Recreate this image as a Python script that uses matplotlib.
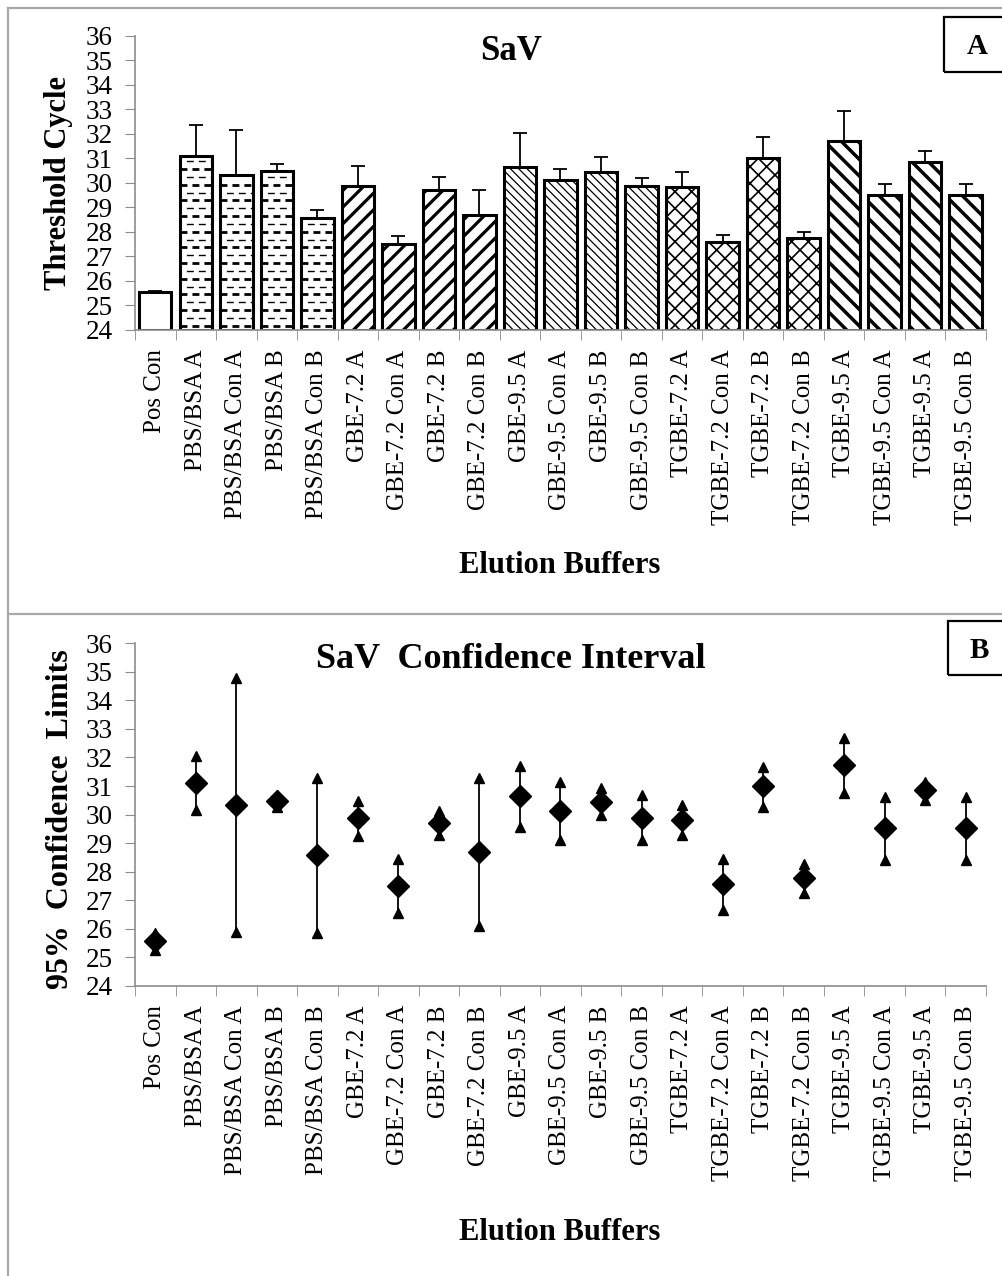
import numpy as np
import matplotlib
matplotlib.use("Agg")
import matplotlib.pyplot as plt
from matplotlib.patches import Rectangle
from matplotlib.lines import Line2D

plt.rcParams['font.family'] = ['Liberation Serif', 'DejaVu Serif']
plt.rcParams['lines.scale_dashes'] = False

# ---- data ----
buffers = ["Pos Con", "PBS/BSA A", "PBS/BSA Con A", "PBS/BSA B", "PBS/BSA Con B",
           "GBE-7.2 A", "GBE-7.2 Con A", "GBE-7.2 B", "GBE-7.2 Con B",
           "GBE-9.5 A", "GBE-9.5 Con A", "GBE-9.5 B", "GBE-9.5 Con B",
           "TGBE-7.2 A", "TGBE-7.2 Con A", "TGBE-7.2 B", "TGBE-7.2 Con B",
           "TGBE-9.5 A", "TGBE-9.5 Con A", "TGBE-9.5 A", "TGBE-9.5 Con B"]
ct_mean = [25.56, 31.10, 30.34, 30.49, 28.58, 29.89, 27.51, 29.71, 28.69, 30.65, 30.12,
           30.43, 29.89, 29.82, 27.58, 31.01, 27.77, 31.73, 29.52, 30.85, 29.52]
ct_sd = [0.04, 1.26, 1.81, 0.27, 0.33, 0.82, 0.33, 0.55, 1.04, 1.38, 0.44,
         0.64, 0.30, 0.63, 0.30, 0.88, 0.22, 1.19, 0.42, 0.44, 0.42]
ci_upper = [25.84, 32.05, 34.77, 30.68, 31.27, 30.49, 28.44, 30.11, 31.29, 31.71, 31.15,
            30.92, 30.68, 30.33, 28.43, 31.65, 28.27, 32.67, 30.60, 31.15, 30.60]
ci_lower = [25.25, 30.17, 25.89, 30.25, 25.86, 29.26, 26.56, 29.27, 26.08, 29.57, 29.11,
            29.98, 29.11, 29.28, 26.65, 30.27, 27.26, 30.74, 28.41, 30.51, 28.41]
# fill style per buffer group
group_fill = ["none"] + ["dash"] * 4 + ["//"] * 4 + ["\\\\\\\\"] * 4 + ["xx"] * 4 + ["\\\\"] * 4
hatch_lw = {"//": 2.3, "\\\\\\\\": 0.9, "xx": 1.2, "\\\\": 2.5}

x = np.arange(len(buffers))
axis_grey = "#8c8c8c"

fig = plt.figure(figsize=(10.03, 12.76), dpi=100)


def style_axes(ax):
    for s in ("top", "right"):
        ax.spines[s].set_visible(False)
    for s in ("left", "bottom"):
        ax.spines[s].set_color(axis_grey)
        ax.spines[s].set_linewidth(1.2)
    ax.set_xlim(-0.5, len(buffers) - 0.5)
    ax.set_ylim(24, 36)
    ax.set_yticks(range(24, 37))
    ax.tick_params(axis="y", length=7, color=axis_grey, labelsize=19.5, pad=9)
    # category labels in the middle, tick marks on the boundaries
    ax.set_xticks(x)
    ax.set_xticklabels(buffers, rotation=90, fontsize=18)
    ax.tick_params(axis="x", which="major", length=0, pad=14)
    ax.set_xticks(np.arange(-0.5, len(buffers)), minor=True)
    ax.tick_params(axis="x", which="minor", length=7, color=axis_grey)


# ---- panel A: bar chart ----
ax1 = fig.add_axes([0.1346, 0.7414, 0.8484, 0.2304])
style_axes(ax1)
bars = ax1.bar(x, np.array(ct_mean) - 24, bottom=24, width=0.8,
               color="white", edgecolor="black", linewidth=2.2, zorder=2)
for b, fill in zip(bars, group_fill):
    if fill in hatch_lw:
        b.set_hatch(fill)
        if hasattr(b, "set_hatch_linewidth"):
            b.set_hatch_linewidth(hatch_lw[fill])
    elif fill == "dash":
        # dashed horizontal fill, alternating heavy/light rows
        x0, w = b.get_x(), b.get_width()
        top = b.get_y() + b.get_height()
        rows = np.arange(24.17, top - 0.1, 0.32)
        for k, yy in enumerate(rows):
            heavy = k % 2 == 0
            ln = Line2D([x0, x0 + w], [yy, yy], color="black",
                        lw=2.0 if heavy else 1.0,
                        linestyle=(0.0 if heavy else 4.0, (5.0, 3.6)),
                        zorder=2.5)
            ax1.add_line(ln)
            ln.set_clip_path(b)

ax1.errorbar(x, ct_mean, yerr=[np.zeros(len(x)), ct_sd], fmt="none",
             ecolor="black", elinewidth=1.3, capsize=5, capthick=1.3, zorder=3)

# ---- panel B: confidence limits ----
ax2 = fig.add_axes([0.1346, 0.2275, 0.8484, 0.2683])
style_axes(ax2)
ax2.vlines(x, ci_lower, ci_upper, color="black", lw=1.3, zorder=2)
ax2.plot(x, ci_upper, "^", color="black", ms=7.5, ls="none", zorder=3)
ax2.plot(x, ci_lower, "^", color="black", ms=7.5, ls="none", zorder=3)
ax2.plot(x, ct_mean, "D", color="black", ms=11.5, ls="none", zorder=4)

# ---- labels ----
bold = dict(fontweight="bold", ha="center", va="center")
fig.text(0.5095, 0.960, "SaV", fontsize=25, **bold)
fig.text(0.5095, 0.4835, "SaV  Confidence Interval", fontsize=26, **bold)
fig.text(0.058, 0.8566, "Threshold Cycle", fontsize=22, rotation=90, **bold)
fig.text(0.060, 0.358, "95%  Confidence  Limits", fontsize=23, rotation=90, **bold)
fig.text(0.558, 0.557, "Elution Buffers", fontsize=22, **bold)
fig.text(0.558, 0.0337, "Elution Buffers", fontsize=22, **bold)

# panel letters in boxes
for (bx, by, bw, bh), letter, (tx, ty) in [((944, 17, 80, 55), "A", (977, 47)),
                                           ((948, 621, 80, 54), "B", (979, 650))]:
    fig.patches.append(Rectangle((bx / 1003, 1 - (by + bh) / 1276), bw / 1003, bh / 1276,
                                 transform=fig.transFigure, fill=False,
                                 edgecolor="black", lw=1.6))
    fig.text(tx / 1003, 1 - ty / 1276, letter, fontsize=21, **bold)

# panel frames
frame = dict(color="#a8a8a8", lw=1.6, transform=fig.transFigure)
fig.add_artist(Line2D([8 / 1003, 8 / 1003], [0, 1 - 8 / 1276], **frame))
fig.add_artist(Line2D([8 / 1003, 1], [1 - 8 / 1276, 1 - 8 / 1276], **frame))
fig.add_artist(Line2D([8 / 1003, 1], [1 - 614 / 1276, 1 - 614 / 1276], **frame))

fig.savefig("out.png", dpi=100)
